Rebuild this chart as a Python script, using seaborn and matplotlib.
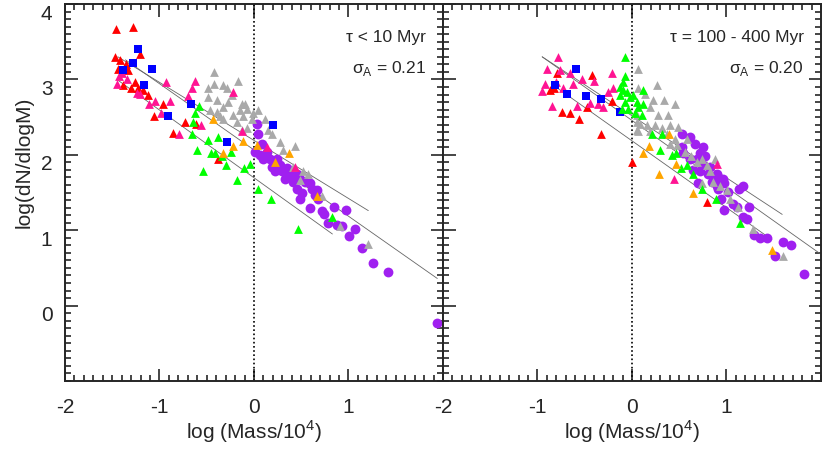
import matplotlib
matplotlib.use("Agg")
import pandas as pd
import matplotlib.pyplot as plt
import matplotlib.transforms as mtransforms
from matplotlib.ticker import MultipleLocator, FixedLocator
import seaborn as sns

# ---- tau < 10 Myr (left panel) ----
young_red_x = [-1.46, -1.28, -1.21, -1.47, -1.42, -1.35, -1.44, -1.33, -1.39, -1.26, -1.30,
               -1.23, -1.17, -1.12, -0.96, -1.06, -0.86, -0.73, -0.61, -0.38]
young_red_y = [3.67, 3.70, 3.34, 3.30, 3.26, 3.20, 3.14, 3.13, 2.93, 2.97, 2.88,
               2.88, 2.86, 2.80, 2.68, 2.51, 2.29, 2.43, 2.41, 1.94]
young_pink_x = [-1.43, -1.34, -1.45, -1.24, -1.21, -1.11, -1.05, -0.98, -0.89, -0.93,
                -0.62, -0.66, -0.70, -0.56, -0.79, -0.22, -0.13, 0.14, 0.43, -1.40]
young_pink_y = [3.04, 3.01, 2.94, 2.82, 2.81, 2.67, 2.72, 2.56, 2.72, 2.96,
                2.98, 2.88, 2.78, 2.39, 2.28, 2.84, 2.32, 2.11, 1.84, 3.08]
young_blue_x = [-1.23, -1.28, -1.39, -1.08, -1.16, -0.67, -0.91, -0.29, 0.20]
young_blue_y = [3.40, 3.22, 3.13, 3.14, 2.93, 2.67, 2.51, 2.17, 2.40]
young_green_x = [-0.58, -0.62, -0.65, -0.66, -0.49, -0.38, -0.60, -0.46, -0.41, -0.24,
                 -0.34, -0.30, -0.54, -0.11, -0.04, -0.18, 0.04, 0.18, 0.47, 0.83]
young_green_y = [2.65, 2.56, 2.44, 2.27, 2.20, 2.24, 2.06, 2.02, 2.03, 2.04,
                 1.98, 1.86, 1.79, 1.83, 1.88, 1.66, 1.55, 1.42, 1.01, 1.18]
young_orange_x = [-0.22, -0.12, -0.33, 0.03, 0.37, 0.22, 0.67, -0.43]
young_orange_y = [2.12, 2.19, 2.03, 2.13, 2.02, 1.90, 1.45, 2.48]
young_grey_x = [-0.42, -0.17, -0.49, -0.42, -0.33, -0.29, -0.49, -0.39, -0.28, -0.13,
                -0.07, -0.47, -0.39, -0.22, -0.12, -0.33, -0.18, -0.01, -0.36, -0.07,
                -0.13, -0.10, 0.04, -0.02, 0.12, 0.15, 0.19, 0.28, 0.43, 0.31,
                0.41, 0.52, 0.57, 0.49, 0.72, 0.91, 1.21, -0.23, -0.33, -0.15]
young_grey_y = [3.10, 2.98, 2.89, 2.94, 2.93, 2.88, 2.77, 2.73, 2.70, 2.67,
                2.61, 2.60, 2.57, 2.53, 2.51, 2.47, 2.44, 2.55, 2.51, 2.36,
                2.33, 2.67, 2.60, 2.48, 2.47, 2.33, 2.27, 2.17, 2.12, 2.07,
                1.84, 1.78, 1.74, 1.67, 1.45, 1.05, 0.82, 2.80, 2.64, 2.60]
young_purple_x = [0.03, 0.04, 0.08, 0.01, 0.06, 0.14, 0.10, 0.17, 0.19, 0.24,
                  0.28, 0.22, 0.30, 0.35, 0.38, 0.33, 0.41, 0.46, 0.49, 0.54,
                  0.59, 0.61, 0.67, 0.65, 0.68, 0.46, 0.51, 0.49, 0.59, 0.72,
                  0.74, 0.85, 0.97, 0.78, 0.88, 0.93, 1.07, 1.01, 1.14, 1.26,
                  1.42, 1.94]
young_purple_y = [2.41, 2.27, 2.15, 2.04, 2.00, 2.04, 1.94, 1.95, 1.84, 1.94,
                  1.87, 1.78, 1.78, 1.82, 1.74, 1.68, 1.64, 1.75, 1.68, 1.64,
                  1.62, 1.55, 1.54, 1.47, 1.41, 1.55, 1.49, 1.42, 1.29, 1.25,
                  1.21, 1.31, 1.27, 1.09, 1.07, 1.06, 1.01, 0.93, 0.77, 0.56,
                  0.44, -0.23]
young_fit_x = [[-1.44, 1.21], [-1.36, 1.94], [-1.44, 0.83]]
young_fit_y = [[3.30, 1.26], [3.26, 0.36], [2.99, 0.95]]

# ---- tau = 100 - 400 Myr (right panel) ----
old_red_x = [-0.79, -0.87, -0.83, -0.42, -0.74, -0.66, -0.56, -0.48, -0.21, -0.33, 0.00, 0.79]
old_red_y = [3.08, 2.86, 2.89, 3.06, 2.57, 2.55, 2.48, 2.63, 2.72, 2.27, 1.90, 1.38]
old_pink_x = [-0.78, -0.90, -0.76, -0.66, -0.92, -0.95, -0.80, -0.73, -0.62, -0.53,
              -0.40, -0.21, -0.25, -0.20, -0.85, -0.58, -0.44, -0.36, -0.31, 0.90, 0.44]
old_pink_y = [3.30, 3.14, 3.13, 3.09, 2.94, 2.85, 2.97, 2.89, 2.94, 3.00,
              2.98, 3.08, 2.84, 2.88, 2.65, 2.65, 2.69, 2.68, 2.63, 1.88, 1.68]
old_blue_x = [-0.59, -0.81, -0.69, -0.49, -0.33, -0.13]
old_blue_y = [3.14, 2.93, 2.81, 2.78, 2.74, 2.57]
old_green_x = [-0.07, -0.07, -0.10, -0.13, -0.10, -0.05, -0.13, -0.02, -0.07, -0.11,
               -0.04, 0.05, 0.01, 0.12, 0.06, 0.03, 0.11, 0.12, 0.21, 0.32,
               0.30, 0.42, 0.47, 0.52, 0.58, 0.65, 0.74, 0.89, 1.14]
old_green_y = [3.30, 3.04, 2.97, 2.90, 2.86, 2.84, 2.80, 2.77, 2.70, 2.61,
               2.61, 2.70, 2.80, 2.68, 2.64, 2.55, 2.53, 2.86, 2.27, 2.28,
               2.07, 2.00, 2.02, 1.82, 1.87, 1.74, 1.55, 1.41, 1.09]
old_orange_x = [0.39, 0.18, 0.12, 0.47, 0.29, 0.65, 1.48]
old_orange_y = [2.27, 2.12, 2.03, 1.88, 1.74, 1.49, 0.74]
old_grey_x = [0.06, 0.06, 0.14, 0.26, 0.34, 0.46, 0.22, 0.19, 0.28, 0.38,
              0.08, 0.16, 0.24, 0.32, 0.40, 0.49, 0.19, 0.06, 0.37, 0.46,
              0.58, 0.40, 0.48, 0.56, 0.63, 0.69, 0.74, 0.79, 0.88, 0.83,
              0.74, 0.86, 0.93, 1.01, 1.04, 1.12, 1.28, 1.60, 0.05, 0.05, 0.05]
old_grey_y = [3.14, 2.88, 2.81, 2.92, 2.73, 2.67, 2.73, 2.64, 2.53, 2.53,
              2.41, 2.40, 2.40, 2.35, 2.40, 2.37, 2.31, 2.31, 2.28, 2.21,
              2.21, 2.15, 2.13, 2.04, 1.98, 1.91, 1.95, 1.87, 1.95, 1.78,
              1.62, 1.64, 1.58, 1.54, 1.41, 1.31, 1.02, 0.66, 2.53, 2.44, 2.33]
old_purple_x = [0.53, 0.61, 0.67, 0.75, 0.53, 0.54, 0.61, 0.72, 0.77, 0.69,
                0.75, 0.83, 0.65, 0.72, 0.80, 0.90, 0.88, 0.96, 0.85, 0.90,
                0.97, 0.70, 0.91, 1.02, 1.17, 1.13, 0.94, 1.07, 1.11, 1.24,
                0.97, 1.17, 1.22, 1.29, 1.35, 1.43, 1.60, 1.68, 1.51, 1.82]
old_purple_y = [2.27, 2.24, 2.15, 2.11, 2.11, 2.02, 1.95, 2.02, 1.98, 1.95,
                1.87, 1.84, 1.80, 1.78, 1.74, 1.75, 1.68, 1.68, 1.64, 1.58,
                1.62, 1.62, 1.55, 1.51, 1.59, 1.55, 1.41, 1.35, 1.31, 1.31,
                1.27, 1.18, 1.15, 0.94, 0.90, 0.90, 0.84, 0.81, 0.66, 0.42]
old_fit_x = [[-0.95, 1.59], [-0.95, 1.99], [-0.84, 1.48]]
old_fit_y = [[3.30, 1.21], [3.30, 0.69], [2.93, 0.875]]

panel_labels = ["τ < 10 Myr", "τ = 100 - 400 Myr"]
sigma_labels = ["σ$_\\mathrm{A}$ = 0.21", "σ$_\\mathrm{A}$ = 0.20"]

sns.set_style("ticks")
plt.rcParams["font.family"] = ["Liberation Sans", "DejaVu Sans"]
plt.rcParams["mathtext.fontset"] = "custom"
plt.rcParams["mathtext.rm"] = "Liberation Sans"
plt.rcParams["axes.unicode_minus"] = False

# group -> (colour, marker, size), listed in drawing order
styles = {
    "purple": ("#a020f0", "o", 50),
    "grey": ("#a9a9a9", "^", 40),
    "red": ("#ff0000", "^", 40),
    "pink": ("#ff1493", "^", 40),
    "blue": ("#0000ff", "s", 36),
    "green": ("#00ff00", "^", 40),
    "orange": ("#ffa500", "^", 40),
}

young = {
    "red": (young_red_x, young_red_y), "pink": (young_pink_x, young_pink_y),
    "blue": (young_blue_x, young_blue_y), "green": (young_green_x, young_green_y),
    "orange": (young_orange_x, young_orange_y), "grey": (young_grey_x, young_grey_y),
    "purple": (young_purple_x, young_purple_y),
}
old = {
    "red": (old_red_x, old_red_y), "pink": (old_pink_x, old_pink_y),
    "blue": (old_blue_x, old_blue_y), "green": (old_green_x, old_green_y),
    "orange": (old_orange_x, old_orange_y), "grey": (old_grey_x, old_grey_y),
    "purple": (old_purple_x, old_purple_y),
}

fig = plt.figure(figsize=(8.3, 4.49), dpi=100)
ax1 = fig.add_axes([0.0783, 0.1514, 0.4554, 0.8396])
ax2 = fig.add_axes([0.5337, 0.1514, 0.4554, 0.8396])

for ax, groups, fx, fy, lab, sig in [(ax1, young, young_fit_x, young_fit_y, panel_labels[0], sigma_labels[0]),
                                     (ax2, old, old_fit_x, old_fit_y, panel_labels[1], sigma_labels[1])]:
    for xs, ys in zip(fx, fy):
        ax.plot(xs, ys, color="0.4", lw=0.6, zorder=1)
    ax.axvline(0, color="black", ls=(0, (1, 1.5)), lw=1.2, zorder=1)
    for name, (col, mk, sz) in styles.items():
        df = pd.DataFrame({"logm": groups[name][0], "logn": groups[name][1]})
        sns.scatterplot(data=df, x="logm", y="logn", ax=ax, color=col, marker=mk,
                        s=sz, linewidth=0, zorder=3)
    ax.text(0.955, 0.912, lab, transform=ax.transAxes, ha="right", va="center", fontsize=12.5)
    ax.text(0.955, 0.83, sig, transform=ax.transAxes, ha="right", va="center", fontsize=12.5)

    ax.set_xlim(-2, 2)
    ax.set_ylim(-1, 4)
    ax.xaxis.set_major_locator(FixedLocator([-2, -1, 0, 1]))
    ax.xaxis.set_minor_locator(MultipleLocator(0.1))
    ax.yaxis.set_major_locator(FixedLocator([0, 1, 2, 3, 4]))
    ax.yaxis.set_minor_locator(MultipleLocator(0.1))
    ax.tick_params(which="both", direction="in", top=True, right=True, width=1.2, labelsize=15)
    ax.tick_params(axis="x", pad=12)
    ax.tick_params(axis="y", pad=9)
    ax.tick_params(which="major", length=9)
    ax.tick_params(which="minor", length=4.5)
    for sp in ax.spines.values():
        sp.set_linewidth(1.4)
    ax.set_xlabel("log (Mass/10$^\\mathrm{4}$)", fontsize=15, labelpad=1)
    ax.set_ylabel("")

ax1.set_ylabel("log(dN/dlogM)", fontsize=15)
ax1.yaxis.set_label_coords(-0.083, 0.58)
ax2.tick_params(labelleft=False)

# y tick labels sit a little below their ticks in the original
shift = mtransforms.ScaledTranslation(0, -0.08, fig.dpi_scale_trans)
for t in ax1.get_yticklabels():
    t.set_transform(t.get_transform() + shift)

fig.savefig("out.png", dpi=100)
